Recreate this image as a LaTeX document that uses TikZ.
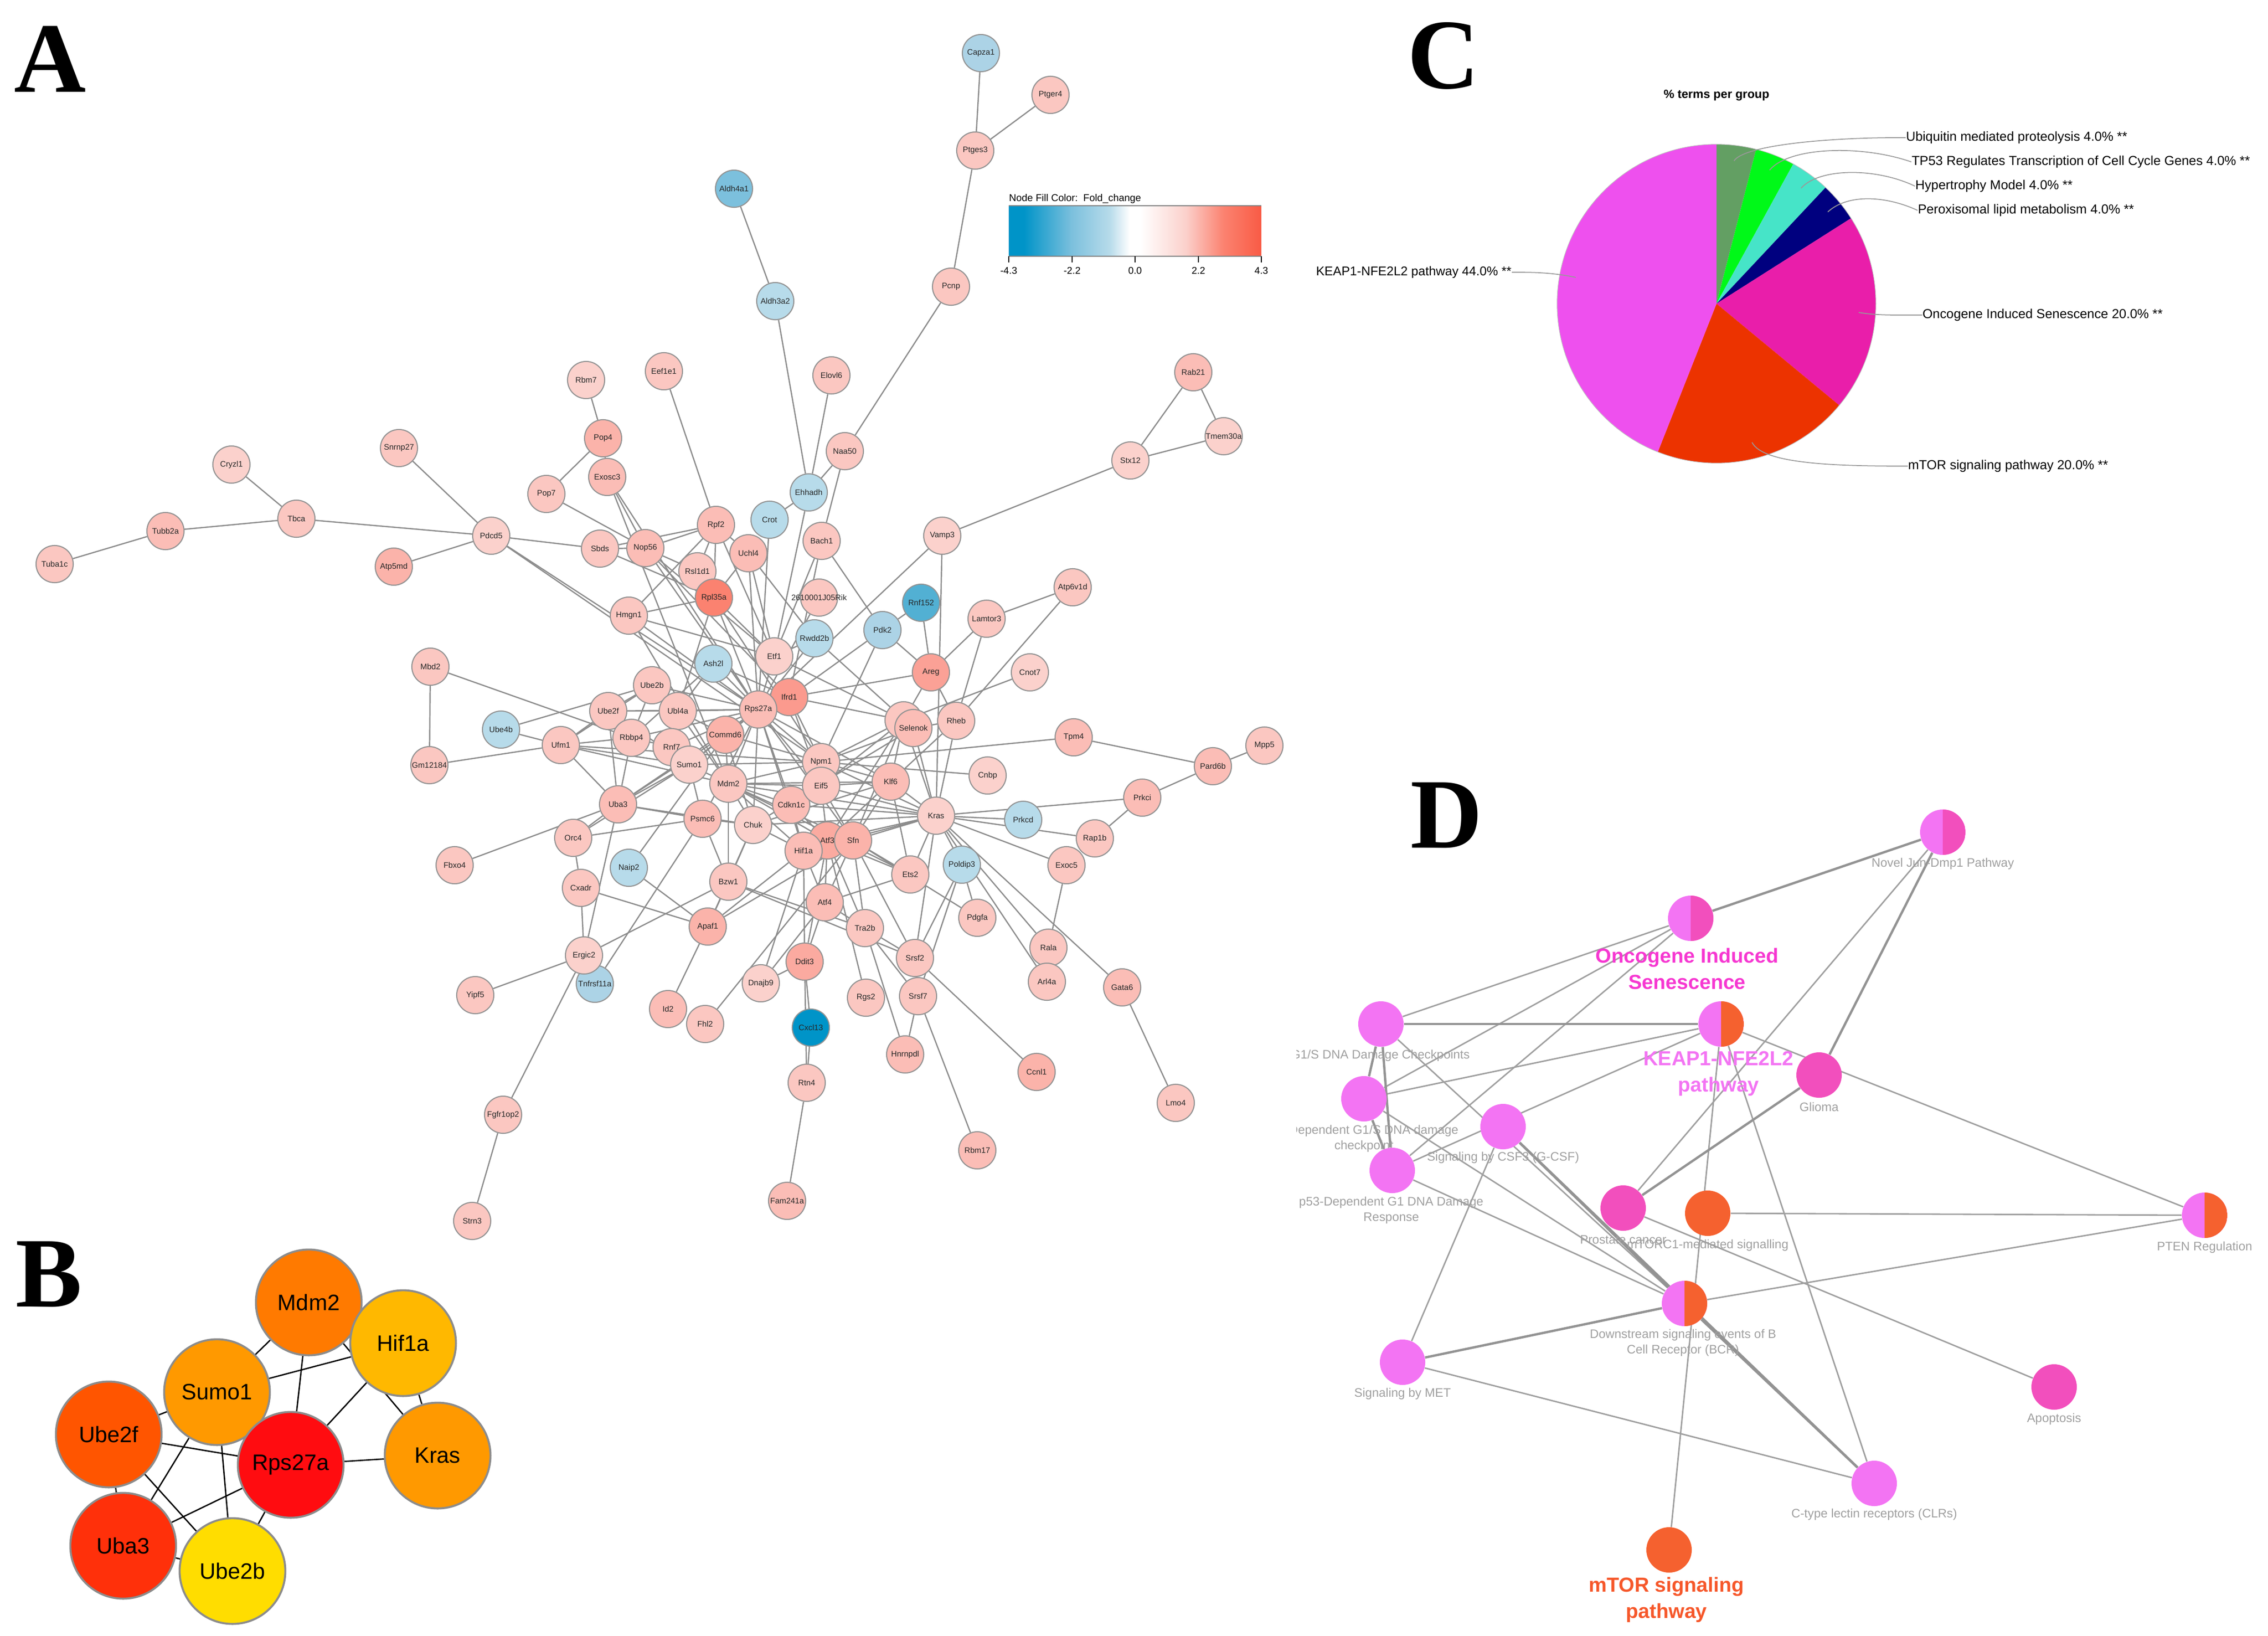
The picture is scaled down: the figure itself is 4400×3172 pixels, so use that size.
\documentclass[tikz,border=0pt]{standalone}
\usepackage{fontspec}
\setmainfont{Liberation Sans}
\newfontfamily\panelfont{Liberation Serif}
\usetikzlibrary{backgrounds}
\definecolor{pa}{HTML}{FBD1CC}
\definecolor{pb}{HTML}{FBC7C1}
\definecolor{pc}{HTML}{FBBDB6}
\definecolor{pd}{HTML}{FBB3AA}
\definecolor{pe}{HTML}{FBAAA0}
\definecolor{pf}{HTML}{FBA196}
\definecolor{pg}{HTML}{FB9A8E}
\definecolor{ph}{HTML}{FB8270}
\definecolor{pk}{HTML}{F95B45}
\definecolor{ba}{HTML}{B7DBEA}
\definecolor{bb}{HTML}{ACD3E6}
\definecolor{bc}{HTML}{7CC0DD}
\definecolor{bd}{HTML}{52B0D3}
\definecolor{be}{HTML}{0094C8}
\definecolor{dpink}{HTML}{F374F3}
\definecolor{dmag}{HTML}{F24FBD}
\definecolor{dora}{HTML}{F5612F}
\pgfdeclarehorizontalshading{foldbar}{100bp}{color(0bp)=(be); color(28bp)=(be); color(37.5bp)=(bc); color(45bp)=(ba); color(49bp)=(white); color(51bp)=(white); color(60bp)=(pa); color(67.5bp)=(ph); color(75bp)=(pk); color(100bp)=(pk)}
\tikzset{
   gene/.style={circle, draw=gray!85, line width=0.6pt, minimum size=0.72cm, inner sep=0pt, text=black!85, font=\fontsize{4.4}{5}\selectfont},
   edgeA/.style={draw=gray!90, line width=0.7pt},
   hub/.style={circle, draw=gray!90, line width=1.1pt, minimum size=2.05cm, inner sep=0pt, font=\fontsize{12.3}{14}\selectfont},
   edgeB/.style={black, line width=0.75pt},
   panel/.style={anchor=base west, inner sep=0pt, font=\panelfont\bfseries\fontsize{55}{60}\selectfont},
   leader/.style={draw=gray!80, line width=0.5pt},
   pielabel/.style={anchor=west, inner sep=0pt, font=\fontsize{7.2}{8}\selectfont},
   term/.style={circle, minimum size=0.88cm, inner sep=0pt, fill=#1},
   termhalf/.style 2 args={circle, minimum size=0.88cm, inner sep=0pt, fill=#1, path picture={\fill[#2] (path picture bounding box.north) rectangle (path picture bounding box.south east);}},
   edgeD/.style={draw=gray!75, line width=0.8pt},
   edgeDD/.style={draw=gray!85, line width=1.3pt},
   termlabel/.style={inner sep=0pt, text=gray!75, align=center, font=\fontsize{6.8}{8.5}\selectfont},
   grouplabel/.style={inner sep=0pt, align=center, font=\bfseries\fontsize{11.2}{14.4}\selectfont}
}
\begin{document}
\begin{tikzpicture}[x=0.01cm, y=-0.01cm]
   \useasboundingbox (0,0) rectangle (4400,3172);

   % panel letters
   \node[panel] (labA) at (27,178) {A};
   \node[panel] (labB) at (30,2534) {B};
   \node[panel] (labC) at (2730,171) {C};
   \node[panel] (labD) at (2736,1644) {D};

   % network A
   \foreach \nm/\px/\py/\fc in {Tuba1c/106/1094/pb, Tubb2a/321/1030/pc, Tbca/575/1006/pb, Cryzl1/449/901/pa,
      Snrnp27/774/869/pb, Pdcd5/953/1039/pa, Atp5md/764/1099/pd, Pop7/1060/958/pb, Rbm7/1137/737/pa,
      Exosc3/1178/925/pc, Pop4/1170/850/pd, Sbds/1164/1064/pb, Nop56/1252/1063/pc, Hmgn1/1220/1194/pb,
      Mbd2/835/1293/pb, Gm12184/833/1484/pb, Eef1e1/1288/720/pb, Elovl6/1613/728/pb, Naa50/1639/875/pb,
      Ehhadh/1569/955/ba, Crot/1493/1008/ba, Rpf2/1389/1018/pc, Uchl4/1452/1073/pc, Bach1/1594/1049/pb,
      Rsl1d1/1353/1108/pb, Rpl35a/1385/1159/ph, 2610001J05Rik/1589/1159/pb, Vamp3/1828/1039/pa,
      Stx12/2193/893/pa, Rab21/2315/722/pc, Tmem30a/2374/846/pa, Rnf152/1787/1169/bd, Pdk2/1712/1222/bb,
      Lamtor3/1914/1200/pb, Atp6v1d/2081/1139/pb, Rwdd2b/1580/1238/ba, Etf1/1502/1273/pa, Ash2l/1384/1287/ba,
      Areg/1806/1304/pf, Cnot7/1998/1304/pa, Ifrd1/1531/1352/pg, Rps27a/1471/1376/pc, Ube2b/1265/1329/pb,
      Ube2f/1180/1379/pb, Ubl4a/1315/1379/pb, Ube4b/972/1415/ba, Ufm1/1088/1445/pb, Rbbp4/1225/1431/pb,
      Rnf7/1303/1449/pb, Sumo1/1337/1483/pa, Commd6/1407/1425/pd, Mdm2/1413/1520/pb, Uba3/1199/1560/pc,
      Psmc6/1363/1588/pc, Chuk/1461/1600/pa, Cdkn1c/1535/1561/pc, Npm1/1593/1478/pb, Eif5/1593/1524/pb,
      Orc4/1112/1625/pb, Fbxo4/882/1678/pb, Naip2/1220/1683/ba, Cxadr/1127/1722/pb, Bzw1/1413/1710/pb,
      Atf3/1605/1630/pe, Hif1a/1559/1650/pc, Sfn/1655/1630/pd, Atf4/1600/1750/pc, Tra2b/1678/1800/pb,
      Apaf1/1373/1797/pd, Ddit3/1561/1865/pe, Rheb/1855/1398/pb, Klf6/1728/1516/pc, Kras/1816/1582/pa,
      Cnbp/1916/1504/pa, Tpm4/2083/1430/pc, Prkcd/1985/1590/ba, Poldip3/1866/1677/ba, Ets2/1766/1696/pb,
      Exoc5/2069/1678/pb, Pdgfa/1896/1780/pb, Srsf7/1781/1932/pb, Srsf2/1775/1858/pb, Pard6b/2353/1486/pc,
      Mpp5/2453/1446/pb, Prkci/2216/1547/pc, Rap1b/2124/1626/pb, Rala/2034/1838/pb, Arl4a/2031/1904/pb,
      Gata6/2177/1915/pc, Lmo4/2281/2139/pb, Ccnl1/2011/2079/pd, Rbm17/1896/2231/pc, Hnrnpdl/1756/2045/pc,
      Tnfrsf11a/1154/1908/bb, Ergic2/1133/1853/pa, Yipf5/922/1930/pb, Id2/1296/1957/pc, Fhl2/1368/1986/pb,
      Dnajb9/1476/1907/pa, Cxcl13/1573/1993/be, Rgs2/1680/1935/pb, Rtn4/1565/2100/pb, Fgfr1op2/976/2162/pb,
      Strn3/916/2368/pb, Fam241a/1527/2329/pc, Capza1/1903/103/bb, Ptger4/2038/184/pb, Ptges3/1892/292/pb,
      Aldh4a1/1424/366/bc, Aldh3a2/1504/584/ba, Pcnp/1845/556/pb}{%
      \node[gene, fill=\fc] (\nm) at (\px,\py) {\makebox[0pt]{\nm}};
   }
   \node[gene, fill=pb] (Selhid) at (1753,1397) {};
   \node[gene, fill=pc] (Selenok) at (1772,1412) {Selenok};

   \begin{scope}[on background layer]
      \foreach \na/\nb in {Tuba1c/Tubb2a, Tubb2a/Tbca, Tbca/Cryzl1, Tbca/Pdcd5, Pdcd5/Snrnp27, Pdcd5/Atp5md, Pdcd5/Sbds,
         Pdcd5/Rps27a, Pdcd5/Npm1, Rbm7/Pop4, Pop4/Pop7, Pop4/Exosc3, Pop7/Nop56, Exosc3/Nop56, Exosc3/Rps27a, Exosc3/Mdm2,
         Eef1e1/Rpf2, Sbds/Nop56, Sbds/Rpf2, Sbds/Rpl35a, Nop56/Rpf2, Nop56/Rsl1d1, Nop56/Rps27a, Nop56/Etf1, Nop56/Ifrd1,
         Rpf2/Rsl1d1, Rpf2/Rpl35a, Rpf2/Hmgn1, Rpf2/Uchl4, Rpf2/Etf1, Uchl4/Rpl35a, Uchl4/Etf1, Uchl4/Rps27a, Uchl4/Rwdd2b,
         Crot/Ehhadh, Crot/Rps27a, Ehhadh/Aldh3a2, Ehhadh/Elovl6, Ehhadh/Naa50, Ehhadh/Etf1, Aldh4a1/Aldh3a2, Naa50/Pcnp,
         Naa50/Bach1, Pcnp/Ptges3, Ptges3/Capza1, Ptges3/Ptger4, Bach1/Etf1, Bach1/Ifrd1, Bach1/Pdk2, 2610001J05Rik/Rps27a,
         Vamp3/Stx12, Vamp3/Rps27a, Vamp3/Kras, Stx12/Rab21, Stx12/Tmem30a, Rab21/Tmem30a, Rnf152/Areg, Rnf152/Pdk2,
         Pdk2/Areg, Pdk2/Ifrd1, Pdk2/Npm1, Areg/Ifrd1, Areg/Lamtor3, Areg/Rheb, Areg/Selhid, Lamtor3/Atp6v1d, Lamtor3/Rheb,
         Atp6v1d/Rheb, Cnot7/Selhid, Rheb/Selenok, Rheb/Klf6, Rheb/Kras, Tpm4/Pard6b, Tpm4/Npm1, Pard6b/Mpp5, Pard6b/Prkci,
         Kras/Prkci, Prkcd/Kras, Rap1b/Prkci, Kras/Rap1b, Kras/Exoc5, Exoc5/Rala, Kras/Poldip3, Kras/Rala, Kras/Arl4a,
         Kras/Gata6, Gata6/Lmo4, Kras/Srsf2, Kras/Ets2, Kras/Klf6, Kras/Selhid, Kras/Selenok, Klf6/Ets2, Poldip3/Pdgfa,
         Poldip3/Srsf2, Poldip3/Srsf7, Srsf2/Ccnl1, Srsf7/Rbm17, Srsf7/Hnrnpdl, Srsf2/Srsf7, Tra2b/Srsf2, Tra2b/Srsf7,
         Tra2b/Hnrnpdl, Tra2b/Sfn, Tra2b/Atf3, Tra2b/Atf4, Sfn/Kras, Atf3/Kras, Hif1a/Kras, Rtn4/Cxcl13, Rtn4/Fam241a,
         Ddit3/Cxcl13, Ddit3/Rtn4, Ddit3/Atf4, Ddit3/Hif1a, Ddit3/Atf3, Ddit3/Dnajb9, Dnajb9/Atf4, Dnajb9/Hif1a, Fhl2/Sfn,
         Id2/Apaf1, Apaf1/Bzw1, Apaf1/Hif1a, Apaf1/Naip2, Apaf1/Cxadr, Apaf1/Sfn, Apaf1/Chuk, Bzw1/Psmc6, Bzw1/Mdm2, Bzw1/Chuk,
         Bzw1/Ergic2, Bzw1/Tra2b, Bzw1/Srsf2, Sfn/Pdgfa, Ergic2/Yipf5, Ergic2/Fgfr1op2, Fgfr1op2/Strn3, Ergic2/Cxadr,
         Ergic2/Uba3, Cxadr/Orc4, Orc4/Uba3, Orc4/Sumo1, Orc4/Psmc6, Fbxo4/Uba3, Psmc6/Tnfrsf11a, Naip2/Commd6,
         Uba3/Ufm1, Uba3/Ube2f, Uba3/Rbbp4, Uba3/Sumo1, Uba3/Commd6, Uba3/Rps27a, Uba3/Psmc6, Uba3/Chuk, Ufm1/Ube4b, Ufm1/Gm12184,
         Mbd2/Gm12184, Mbd2/Rbbp4, Ufm1/Ube2f, Ufm1/Ube2b, Ufm1/Rbbp4, Ufm1/Sumo1, Ufm1/Mdm2, Ufm1/Npm1, Ube4b/Ube2b,
         Ube2f/Ube2b, Ube2f/Ubl4a, Ube2f/Rps27a, Ube2f/Sumo1, Ube2b/Ubl4a, Ube2b/Rps27a, Ube2b/Rbbp4, Ubl4a/Rps27a,
         Ubl4a/Commd6, Ubl4a/Ash2l, Ubl4a/Mdm2, Ubl4a/Rpl35a, Rbbp4/Ash2l, Rbbp4/Rps27a, Rbbp4/Rnf7, Rnf7/Sumo1, Rnf7/Rps27a,
         Sumo1/Rps27a, Sumo1/Commd6, Sumo1/Npm1, Sumo1/Mdm2, Sumo1/Psmc6, Commd6/Rps27a, Commd6/Mdm2, Commd6/Npm1, Commd6/Chuk,
         Mdm2/Rps27a, Mdm2/Npm1, Mdm2/Eif5, Mdm2/Cdkn1c, Mdm2/Hif1a, Mdm2/Sfn, Mdm2/Atf3, Mdm2/Chuk, Mdm2/Kras, Mdm2/Klf6, Mdm2/Ets2,
         Rps27a/Cdkn1c, Rps27a/Npm1, Rps27a/Eif5, Rps27a/Klf6, Rps27a/Hif1a, Rps27a/Chuk, Rps27a/Psmc6, Rps27a/Etf1, Rps27a/Ash2l,
         Rps27a/Rpl35a, Rps27a/Hmgn1, Rps27a/Sfn, Rpl35a/Etf1, Rpl35a/Npm1, Rpl35a/Hmgn1, Hmgn1/Etf1, Hmgn1/Mdm2, Ash2l/Ifrd1,
         Etf1/Selhid, Ifrd1/Selhid, Ifrd1/Npm1, Ifrd1/Eif5, Rwdd2b/Selenok, Rwdd2b/Etf1, Rwdd2b/Rps27a, Selhid/Npm1, Selhid/Eif5,
         Selhid/Klf6, Selhid/Sfn, Selhid/Atf3, Selenok/Npm1, Selenok/Chuk, Klf6/Npm1, Klf6/Eif5, Klf6/Sfn, Klf6/Atf3, Klf6/Chuk,
         Cnbp/Npm1, Eif5/Atf3, Eif5/Sfn, Eif5/Kras, Npm1/Kras, Cdkn1c/Kras, Cdkn1c/Hif1a, Cdkn1c/Atf3, Chuk/Kras, Chuk/Hif1a,
         Chuk/Psmc6, Atf4/Sfn, Atf4/Hif1a, Atf4/Atf3, Atf4/Ets2, Sfn/Ets2, Atf3/Ets2, Sfn/Srsf2, Rgs2/Atf3}{%
         \draw[edgeA] (\na) -- (\nb);
      }
   \end{scope}

   % colour bar
   \coordinate (barTL) at (1957,399);
   \coordinate (barBR) at (2447,497);
   \shade[shading=foldbar] (barTL) rectangle (barBR);
   \draw[gray, line width=0.4pt] (barTL) -- (barTL -| barBR);
   \draw[gray, line width=0.4pt] (barTL |- barBR) -- (barBR);
   \node[anchor=base west, inner sep=0pt, font=\fontsize{5.5}{6}\selectfont] (barTitle) at (1957,390) {Node Fill Color:\ \ Fold\_change};
   \foreach \tx/\tv in {1957/-4.3, 2080/-2.2, 2202/0.0, 2325/2.2, 2447/4.3}{%
      \draw[black, line width=0.5pt] (\tx,497) -- (\tx,509);
      \node[inner sep=0pt, font=\fontsize{5.4}{6}\selectfont] (tick\tx) at (\tx,525) {\tv};
   }

   % network B
   \foreach \nm/\tx/\px/\py/\fc in {hMdm2/Mdm2/599/2526/FF7A00, hSumo1/Sumo1/421/2700/FF9900, hUbe2f/Ube2f/211/2782/FF5500,
      hUba3/Uba3/239/2998/FF300A, hUbe2b/Ube2b/451/3047/FFDD00, hKras/Kras/849/2823/FF9900, hRps27a/Rps27a/564/2841/FF0C10,
      hHif1a/Hif1a/782/2605/FFB800}{%
      \definecolor{hubfill}{HTML}{\fc}
      \node[hub, fill=hubfill] (\nm) at (\px,\py) {\tx};
   }
   \begin{scope}[on background layer]
      \foreach \na/\nb in {hMdm2/hSumo1, hMdm2/hHif1a, hMdm2/hRps27a, hMdm2/hKras, hSumo1/hHif1a, hSumo1/hUbe2f, hSumo1/hUba3,
         hSumo1/hUbe2b, hHif1a/hKras, hHif1a/hRps27a, hRps27a/hKras, hUbe2f/hRps27a, hUbe2f/hUbe2b, hUbe2f/hUba3, hUba3/hRps27a,
         hUba3/hUbe2b, hRps27a/hUbe2b}{%
         \draw[edgeB] (\na) -- (\nb);
      }
   \end{scope}

   % pie C
   \coordinate (pie) at (3330,589);
   \node[inner sep=0pt, font=\bfseries\fontsize{6.6}{8}\selectfont] (pieTitle) at (3330,185) {\% terms per group};
   \foreach \sa/\ea/\fc in {90/75.6/639F63, 75.6/61.2/00F918, 61.2/46.8/46E4C8, 46.8/32.4/00007F, 32.4/-39.6/E91EAA,
      -39.6/-111.6/EC3300, -111.6/-270/EE50EE}{%
      \definecolor{piefill}{HTML}{\fc}
      \fill[piefill] (pie) -- ++(\sa:3.09cm) arc[start angle=\sa, end angle=\ea, radius=3.09cm] -- cycle;
   }
   \draw[gray!50, line width=0.3pt] (pie) circle (3.09cm);
   \node[pielabel] (lbUbi) at (3697,267) {Ubiquitin mediated proteolysis 4.0\% **};
   \node[pielabel] (lbTp) at (3708,314) {TP53 Regulates Transcription of Cell Cycle Genes 4.0\% **};
   \node[pielabel] (lbHyp) at (3715,361) {Hypertrophy Model 4.0\% **};
   \node[pielabel] (lbPer) at (3720,408) {Peroxisomal lipid metabolism 4.0\% **};
   \node[pielabel] (lbOnc) at (3729,611) {Oncogene Induced Senescence 20.0\% **};
   \node[pielabel] (lbTor) at (3701,904) {mTOR signaling pathway 20.0\% **};
   \node[pielabel, anchor=east, font=\fontsize{7}{8}\selectfont] (lbKea) at (2933,528) {KEAP1-NFE2L2 pathway 44.0\% **};
   \coordinate (ptUbi) at (3364,312);
   \coordinate (ptTp) at (3433,330);
   \coordinate (ptHyp) at (3494,365);
   \coordinate (ptPer) at (3546,411);
   \coordinate (ptOnc) at (3606,606);
   \coordinate (ptTor) at (3399,858);
   \coordinate (ptKea) at (3057,538);
   \draw[leader] (ptUbi) .. controls (3385,280) and (3560,266) .. (lbUbi.west);
   \draw[leader] (ptTp) .. controls (3470,285) and (3610,280) .. (lbTp.west);
   \draw[leader] (ptHyp) .. controls (3530,325) and (3640,325) .. (lbHyp.west);
   \draw[leader] (ptPer) .. controls (3585,375) and (3660,380) .. (lbPer.west);
   \draw[leader] (ptOnc) .. controls (3640,612) and (3680,611) .. (lbOnc.west);
   \draw[leader] (ptTor) .. controls (3420,900) and (3560,904) .. (lbTor.west);
   \draw[leader] (ptKea) .. controls (3010,528) and (2970,528) .. (lbKea.east);

   % network D
   \begin{scope}
      \clip (2515,1500) rectangle (4400,3172);
      \node[termlabel] (lbNovel) at (3769,1675) {Novel Jun-Dmp1 Pathway};
      \node[termlabel, anchor=east] (lbG1S) at (2852,2047) {G1/S DNA Damage Checkpoints};
      \node[termlabel, anchor=east] (lbDep) at (2830,2193) {Dependent G1/S DNA damage};
      \node[termlabel] (lbChk) at (2646,2223) {checkpoint};
      \node[termlabel] (lbGli) at (3529,2147) {Glioma};
      \node[termlabel] (lbCsf) at (2916,2245) {Signaling by CSF3 (G-CSF)};
      \node[termlabel] (lbP53) at (2699,2347) {p53-Dependent G1 DNA Damage\\Response};
      \node[termlabel] (lbPro) at (3149,2404) {Prostate cancer};
      \node[termlabel] (lbMtc) at (3313,2415) {mTORC1-mediated signalling};
      \node[termlabel] (lbPten) at (4277,2419) {PTEN Regulation};
      \node[termlabel] (lbBcr) at (3265,2604) {Downstream signaling events of B\\Cell Receptor (BCR)};
      \node[termlabel] (lbMet) at (2721,2703) {Signaling by MET};
      \node[termlabel] (lbApo) at (3985,2752) {Apoptosis};
      \node[termlabel] (lbClr) at (3636,2937) {C-type lectin receptors (CLRs)};
   \end{scope}
   \node[termhalf={dpink}{dmag}] (tNovel) at (3769,1614) {};
   \node[termhalf={dpink}{dmag}] (tOnc) at (3280,1781) {};
   \node[term=dpink] (tG1S) at (2679,1986) {};
   \node[termhalf={dpink}{dora}] (tKeap) at (3339,1986) {};
   \node[term=dmag] (tGli) at (3529,2085) {};
   \node[term=dpink] (tDep) at (2646,2131) {};
   \node[term=dpink] (tCsf) at (2916,2185) {};
   \node[term=dpink] (tP53) at (2701,2270) {};
   \node[term=dmag] (tPro) at (3149,2343) {};
   \node[term=dora] (tMtc) at (3313,2353) {};
   \node[termhalf={dpink}{dora}] (tPten) at (4277,2357) {};
   \node[termhalf={dpink}{dora}] (tBcr) at (3268,2528) {};
   \node[term=dpink] (tMet) at (2721,2642) {};
   \node[term=dmag] (tApo) at (3985,2690) {};
   \node[term=dpink] (tClr) at (3636,2877) {};
   \node[term=dora] (tTor) at (3238,3006) {};
   \node[grouplabel, text=dmag!70!magenta] (lbGrOnc) at (3273,1879) {Oncogene Induced\\Senescence};
   \node[grouplabel, text=dpink] (lbGrKea) at (3334,2082) {KEAP1-NFE2L2\\pathway};
   \node[grouplabel, text=dora!90!red] (lbGrTor) at (3233,3103) {mTOR signaling\\pathway};
   \begin{scope}[on background layer]
      \foreach \na/\nb in {tNovel/tPro, tOnc/tG1S, tOnc/tDep, tOnc/tP53, tG1S/tBcr, tKeap/tDep, tKeap/tP53, tKeap/tPten, tKeap/tTor,
         tKeap/tClr, tDep/tBcr, tP53/tBcr, tCsf/tMet, tBcr/tPten, tMet/tClr, tMtc/tPten, tPro/tApo}{%
         \draw[edgeD] (\na) -- (\nb);
      }
      \foreach \na/\nb in {tNovel/tOnc, tNovel/tGli, tG1S/tKeap, tG1S/tDep, tG1S/tP53, tGli/tPro, tDep/tP53, tCsf/tBcr, tCsf/tClr,
         tBcr/tClr, tBcr/tMet}{%
         \draw[edgeDD] (\na) -- (\nb);
      }
   \end{scope}
\end{tikzpicture}
\end{document}
